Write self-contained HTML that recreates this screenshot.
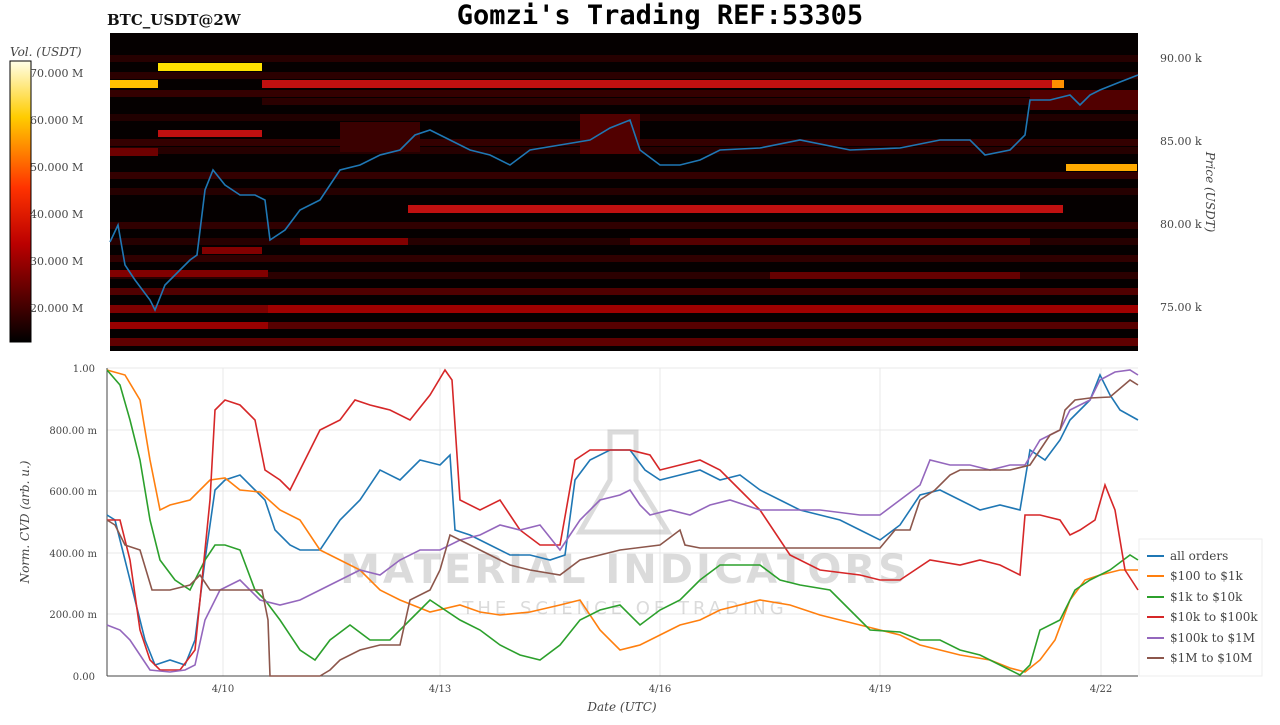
<!DOCTYPE html>
<html><head><meta charset="utf-8"><style>
body{margin:0;background:#fff;width:1280px;height:720px;overflow:hidden}
svg text{font-family:"DejaVu Serif","Liberation Serif",serif;fill:#444}
</style></head><body>
<svg width="1280" height="720" xmlns="http://www.w3.org/2000/svg">
<defs><linearGradient id="cb" x1="0" y1="1" x2="0" y2="0">
<stop offset="0" stop-color="#000"/><stop offset="0.35" stop-color="#b00"/><stop offset="0.55" stop-color="#f30"/><stop offset="0.8" stop-color="#fc0"/><stop offset="1" stop-color="#ffffe8"/></linearGradient></defs>
<text x="660" y="24" text-anchor="middle" style="font-family:'DejaVu Sans Mono','Liberation Mono',monospace;font-size:27px;font-weight:bold;fill:#000">Gomzi's Trading REF:53305</text>
<text x="107" y="25" style="font-size:15px;font-weight:bold;fill:#111">BTC_USDT@2W</text>
<text x="10" y="56" style="font-size:12px;font-style:italic">Vol. (USDT)</text>
<rect x="10" y="61" width="21" height="281" fill="url(#cb)" stroke="#000"/>
<g style="font-size:11px"><text x="30" y="77">70.000 M</text><text x="30" y="124">60.000 M</text><text x="30" y="171">50.000 M</text><text x="30" y="218">40.000 M</text><text x="30" y="265">30.000 M</text><text x="30" y="312">20.000 M</text></g>
<rect x="110" y="33" width="1028" height="318" fill="#050000"/>
<g opacity="0.9">
<rect x="110" y="55" width="1028" height="7" fill="#2a0000"/>
<rect x="110" y="72" width="1028" height="7" fill="#300000"/>
<rect x="110" y="90" width="1028" height="7" fill="#3a0000"/>
<rect x="262" y="98" width="876" height="7" fill="#300000"/>
<rect x="110" y="114" width="1028" height="7" fill="#250000"/>
<rect x="110" y="139" width="1028" height="7" fill="#3a0000"/>
<rect x="110" y="147" width="1028" height="7" fill="#2a0000"/>
<rect x="110" y="172" width="1028" height="7" fill="#3a0000"/>
<rect x="110" y="188" width="1028" height="7" fill="#2a0000"/>
<rect x="110" y="222" width="1028" height="7" fill="#350000"/>
<rect x="110" y="238" width="1028" height="7" fill="#2a0000"/>
<rect x="110" y="255" width="1028" height="7" fill="#350000"/>
<rect x="110" y="272" width="1028" height="7" fill="#300000"/>
<rect x="110" y="288" width="1028" height="7" fill="#5a0000"/>
<rect x="110" y="305" width="1028" height="8" fill="#8a0000"/>
<rect x="110" y="322" width="1028" height="7" fill="#600000"/>
<rect x="110" y="338" width="1028" height="8" fill="#6a0000"/>
<rect x="110" y="148" width="48" height="8" fill="#7a0000"/>
<rect x="110" y="270" width="158" height="7" fill="#900000"/>
<rect x="110" y="322" width="158" height="7" fill="#aa0000"/>
<rect x="268" y="305" width="870" height="8" fill="#b00000"/>
<rect x="300" y="238" width="108" height="7" fill="#900000"/>
<rect x="202" y="247" width="60" height="7" fill="#900000"/>
<rect x="630" y="238" width="400" height="7" fill="#600000"/>
<rect x="770" y="272" width="250" height="7" fill="#700000"/>
<rect x="580" y="114" width="60" height="40" fill="#5a0000"/>
<rect x="340" y="122" width="80" height="30" fill="#400000"/>
<rect x="1030" y="90" width="108" height="20" fill="#5a0000"/>
</g>
<rect x="158" y="63" width="104" height="8" fill="#ffe000"/>
<rect x="110" y="80" width="48" height="8" fill="#ffc000"/>
<rect x="262" y="80" width="790" height="8" fill="#c01010"/>
<rect x="1052" y="80" width="12" height="8" fill="#ff9000"/>
<rect x="158" y="130" width="104" height="7" fill="#c01010"/>
<rect x="408" y="205" width="655" height="8" fill="#c01010"/>
<rect x="1066" y="164" width="71" height="7" fill="#ffaa00"/>
<polyline fill="none" stroke="#1f77b4" stroke-width="1.6" points="110,242 118,225 125,265 135,280 150,300 155,310 165,285 180,270 190,260 197,255 205,190 213,170 225,185 240,195 255,195 265,200 270,240 285,230 300,210 320,200 340,170 360,165 380,155 400,150 415,135 430,130 450,140 470,150 490,155 510,165 530,150 560,145 590,140 610,128 630,120 640,150 660,165 680,165 700,160 720,150 760,148 800,140 850,150 900,148 940,140 970,140 985,155 1010,150 1025,135 1030,100 1050,100 1070,95 1080,105 1090,95 1100,90 1120,82 1138,75"/>
<g style="font-size:11px"><text x="1160" y="62">90.00 k</text><text x="1160" y="145">85.00 k</text><text x="1160" y="228">80.00 k</text><text x="1160" y="311">75.00 k</text></g>
<text transform="translate(1206,192) rotate(90)" text-anchor="middle" style="font-size:12px;font-style:italic">Price (USDT)</text>
<g stroke="#e8e8e8"><line x1="107" y1="430" x2="1138" y2="430"/><line x1="107" y1="491" x2="1138" y2="491"/><line x1="107" y1="553" x2="1138" y2="553"/><line x1="107" y1="614" x2="1138" y2="614"/><line x1="107" y1="368" x2="1138" y2="368"/>
<line x1="223" y1="368" x2="223" y2="676"/><line x1="440" y1="368" x2="440" y2="676"/><line x1="660" y1="368" x2="660" y2="676"/><line x1="880" y1="368" x2="880" y2="676"/><line x1="1101" y1="368" x2="1101" y2="676"/></g>
<line x1="107" y1="368" x2="107" y2="676" stroke="#444"/><line x1="107" y1="676" x2="1138" y2="676" stroke="#444"/>
<g style="font-size:10px" text-anchor="end"><text x="95" y="372">1.00</text><text x="97" y="434">800.00 m</text><text x="97" y="495">600.00 m</text><text x="97" y="557">400.00 m</text><text x="97" y="618">200.00 m</text><text x="95" y="680">0.00</text></g>
<g style="font-size:10px" text-anchor="middle"><text x="223" y="692">4/10</text><text x="440" y="692">4/13</text><text x="660" y="692">4/16</text><text x="880" y="692">4/19</text><text x="1101" y="692">4/22</text></g>
<text x="622" y="711" text-anchor="middle" style="font-size:12px;font-style:italic">Date (UTC)</text>
<text transform="translate(29,522) rotate(-90)" text-anchor="middle" style="font-size:12px;font-style:italic">Norm. CVD (arb. u.)</text>
<g opacity="0.35"><path d="M610,432 L636,432 L636,480 L668,532 L580,532 L610,480 Z" fill="none" stroke="#999" stroke-width="5"/>
<text x="625" y="583" text-anchor="middle" style="font-family:'DejaVu Sans','Liberation Sans',sans-serif;font-size:40px;font-weight:bold;fill:#999;letter-spacing:3px">MATERIAL INDICATORS</text>
<text x="625" y="614" text-anchor="middle" style="font-family:'DejaVu Sans','Liberation Sans',sans-serif;font-size:18px;fill:#999;letter-spacing:4px">THE SCIENCE OF TRADING</text></g>
<g fill="none" stroke-width="1.6">
<polyline stroke="#1f77b4" points="107,515 115,520 125,560 135,600 145,640 155,665 170,660 185,665 195,640 205,560 215,490 225,480 240,475 255,490 265,500 275,530 290,545 300,550 320,550 340,520 360,500 380,470 400,480 420,460 440,465 450,455 455,530 470,535 490,545 510,555 530,555 550,560 565,555 575,480 590,460 610,450 630,450 645,470 660,480 680,475 700,470 720,480 740,475 760,490 780,500 800,510 820,515 840,520 860,530 880,540 900,525 920,495 940,490 960,500 980,510 1000,505 1020,510 1030,450 1045,460 1060,440 1070,420 1080,410 1090,400 1100,375 1110,395 1120,410 1138,420"/>
<polyline stroke="#ff7f0e" points="107,370 125,375 140,400 150,460 160,510 170,505 190,500 210,480 225,478 240,490 260,492 280,510 300,520 320,550 340,560 360,570 380,590 400,600 430,612 460,605 480,612 500,615 530,612 560,605 580,600 600,630 620,650 640,645 660,635 680,625 700,620 720,610 760,600 790,605 820,615 860,625 880,630 900,635 920,645 940,650 960,655 990,660 1010,668 1025,672 1040,660 1055,640 1070,600 1085,580 1100,575 1120,570 1138,570"/>
<polyline stroke="#2ca02c" points="107,370 120,385 130,420 140,460 150,520 160,560 175,580 190,590 205,560 215,545 225,545 240,550 255,590 265,600 280,620 300,650 315,660 330,640 350,625 370,640 390,640 410,620 430,600 460,620 480,630 500,645 520,655 540,660 560,645 580,620 600,610 620,605 640,625 660,610 680,600 700,580 720,565 740,565 760,565 780,580 800,585 830,590 850,610 870,630 900,632 920,640 940,640 960,650 980,655 1000,665 1020,675 1030,665 1040,630 1060,620 1075,590 1090,580 1110,570 1130,555 1138,560"/>
<polyline stroke="#d62728" points="107,520 120,520 130,560 140,630 150,660 160,670 180,670 195,650 210,500 215,410 225,400 240,405 255,420 265,470 280,480 290,490 300,470 320,430 340,420 355,400 370,405 390,410 410,420 430,395 445,370 452,380 460,500 480,510 500,500 520,530 540,545 560,545 575,460 590,450 610,450 630,450 650,455 660,470 680,465 700,460 720,470 740,490 760,510 790,555 820,570 860,575 880,580 900,580 930,560 960,565 980,560 1000,565 1020,575 1025,515 1040,515 1060,520 1070,535 1080,530 1095,520 1105,485 1115,510 1125,570 1138,590"/>
<polyline stroke="#9467bd" points="107,625 120,630 130,640 140,655 150,670 170,672 185,670 195,665 205,620 220,590 240,580 260,600 280,605 300,600 320,590 340,580 360,570 380,575 400,560 420,550 440,550 460,540 480,535 500,525 520,530 540,525 560,550 580,520 600,500 620,495 630,490 640,505 650,515 670,510 690,515 710,505 730,500 760,510 790,510 820,510 860,515 880,515 900,500 920,485 930,460 950,465 970,465 990,470 1010,465 1025,465 1040,440 1060,430 1070,410 1090,400 1100,380 1115,372 1130,370 1138,375"/>
<polyline stroke="#8c564b" points="107,520 115,525 125,545 140,550 152,590 170,590 190,585 200,575 210,590 262,590 268,620 270,676 320,676 330,670 340,660 360,650 380,645 400,645 410,600 430,590 440,570 450,535 470,545 490,555 510,565 530,570 560,575 580,560 600,555 620,550 660,545 680,530 685,545 700,548 880,548 895,530 910,530 920,500 935,490 950,475 960,470 1010,470 1030,465 1040,450 1050,435 1060,430 1065,410 1075,400 1090,398 1110,397 1130,380 1138,385"/>
</g>
<rect x="1139" y="539" width="123" height="137" fill="#fff" stroke="#eee"/>
<g stroke-width="2"><line x1="1147" y1="556" x2="1164" y2="556" stroke="#1f77b4"/><line x1="1147" y1="576" x2="1164" y2="576" stroke="#ff7f0e"/><line x1="1147" y1="597" x2="1164" y2="597" stroke="#2ca02c"/><line x1="1147" y1="617" x2="1164" y2="617" stroke="#d62728"/><line x1="1147" y1="638" x2="1164" y2="638" stroke="#9467bd"/><line x1="1147" y1="658" x2="1164" y2="658" stroke="#8c564b"/></g>
<g style="font-size:12px"><text x="1170" y="560">all orders</text><text x="1170" y="580">$100 to $1k</text><text x="1170" y="601">$1k to $10k</text><text x="1170" y="621">$10k to $100k</text><text x="1170" y="642">$100k to $1M</text><text x="1170" y="662">$1M to $10M</text></g>
</svg>
</body></html>
